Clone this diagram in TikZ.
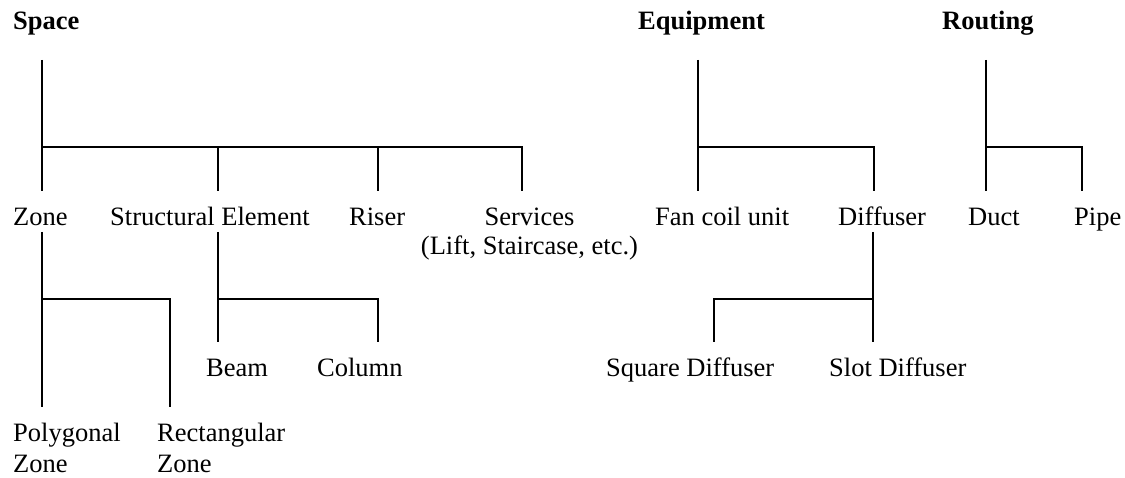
\documentclass[tikz,border=0pt]{standalone}
\usepackage{fontspec}
\setmainfont{Liberation Serif}
\begin{document}
\begin{tikzpicture}[x=1pt,y=-1pt,
  txt/.style={inner sep=0pt, anchor=base west, font=\fontsize{26.5}{30}\selectfont},
  head/.style={txt, font=\fontsize{26.5}{30}\selectfont\bfseries},
  tree/.style={line width=1.5pt, line join=miter}]
\useasboundingbox (0,0) rectangle (1125,478);

% category headings
\node[head] (space)   at (13,30)  {Space};
\node[head] (equip)   at (638,30) {Equipment};
\node[head] (routing) at (942,30) {Routing};

% second level
\node[txt] (zone)   at (13,226)  {Zone};
\node[txt] (struct) at (110,226) {Structural Element};
\node[txt] (riser)  at (349,226) {Riser};
\node[txt, anchor=base] (services) at (529.5,226)
  {\begin{tabular}[t]{@{}c@{}}Services\\[-1pt](Lift, Staircase, etc.)\end{tabular}};
\node[txt] (fcu)    at (655,226) {Fan coil unit};
\node[txt] (diff)   at (838,226) {Diffuser};
\node[txt] (duct)   at (968,226) {Duct};
\node[txt] (pipe)   at (1074,226) {Pipe};

% third level
\node[txt] (beam)   at (206,377) {Beam};
\node[txt] (column) at (317,377) {Column};
\node[txt] (square) at (606,377) {Square Diffuser};
\node[txt] (slot)   at (829,377) {Slot Diffuser};
\node[txt] (poly)   at (13,441)
  {\begin{tabular}[t]{@{}l@{}}Polygonal\\[1pt]Zone\end{tabular}};
\node[txt] (rect)   at (157,441)
  {\begin{tabular}[t]{@{}l@{}}Rectangular\\[1pt]Zone\end{tabular}};

% branch points
\coordinate (spTop)  at (42,60);
\coordinate (spJ)    at (42,147);
\coordinate (zoneUp) at (42,191);
\coordinate (structUp) at (218,191);
\coordinate (riserUp)  at (378,191);
\coordinate (servUp)   at (522,191);

\coordinate (eqTop)  at (698,60);
\coordinate (eqJ)    at (698,147);
\coordinate (fcuUp)  at (698,191);
\coordinate (diffUp) at (874,191);

\coordinate (rtTop)  at (986,60);
\coordinate (rtJ)    at (986,147);
\coordinate (ductUp) at (986,191);
\coordinate (pipeUp) at (1082,191);

\coordinate (zoneDn) at (42,232);
\coordinate (zoneJ)  at (42,299);
\coordinate (polyUp) at (42,407);
\coordinate (rectUp) at (170,407);

\coordinate (structDn) at (218,232);
\coordinate (structJ)  at (218,299);
\coordinate (beamUp)   at (218,342);
\coordinate (colUp)    at (378,342);

\coordinate (diffDn)   at (873,232);
\coordinate (diffJ)    at (873,299);
\coordinate (slotUp)   at (873,342);
\coordinate (squareUp) at (714,342);

% Space
\draw[tree] (spTop) -- (zoneUp);
\draw[tree] (spJ) -| (servUp);
\draw[tree] (structUp |- spJ) -- (structUp);
\draw[tree] (riserUp |- spJ) -- (riserUp);

% Equipment
\draw[tree] (eqTop) -- (fcuUp);
\draw[tree] (eqJ) -| (diffUp);

% Routing
\draw[tree] (rtTop) -- (ductUp);
\draw[tree] (rtJ) -| (pipeUp);

% Zone
\draw[tree] (zoneDn) -- (polyUp);
\draw[tree] (zoneJ) -| (rectUp);

% Structural Element
\draw[tree] (structDn) -- (beamUp);
\draw[tree] (structJ) -| (colUp);

% Diffuser
\draw[tree] (diffDn) -- (slotUp);
\draw[tree] (diffJ) -| (squareUp);
\end{tikzpicture}
\end{document}
